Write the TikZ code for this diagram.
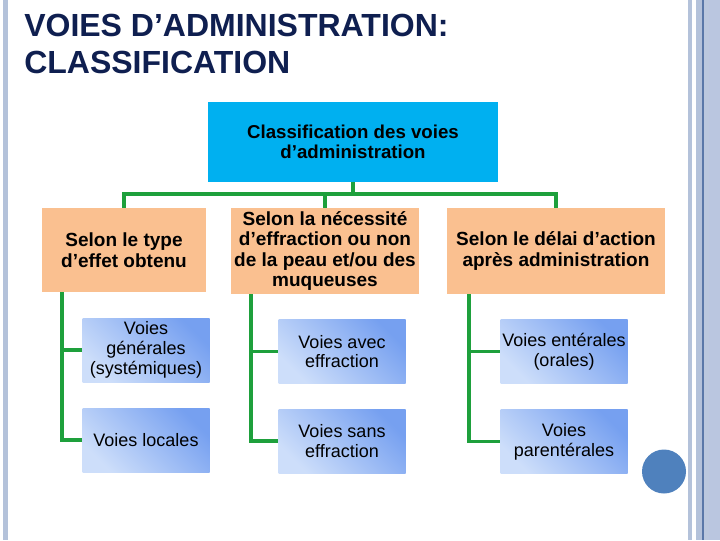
\documentclass[tikz,border=0pt]{standalone}
\usepackage{fontspec}
\setmainfont{Liberation Sans}
\definecolor{stripe}{RGB}{180,194,218}
\definecolor{stripefill}{RGB}{186,198,224}
\definecolor{stripedark}{RGB}{90,120,168}
\definecolor{titlenavy}{RGB}{15,31,80}
\definecolor{cyanbox}{RGB}{0,176,240}
\definecolor{orangebox}{RGB}{250,192,144}
\definecolor{bluedark}{RGB}{118,160,240}
\definecolor{bluelight}{RGB}{205,222,250}
\definecolor{conngreen}{RGB}{30,160,60}
\definecolor{dotblue}{RGB}{79,129,189}
\begin{document}
\begin{tikzpicture}[x=0.75pt,y=-0.75pt,
  titletext/.style={anchor=base west, inner sep=0pt, text=titlenavy,
    font=\fontsize{24pt}{27pt}\selectfont\bfseries},
  topbox/.style={rectangle, fill=cyanbox, inner sep=0pt, align=center,
    minimum width=217.5pt, minimum height=60pt,
    font=\fontsize{14pt}{15pt}\selectfont\bfseries},
  catbox/.style={rectangle, fill=orangebox, inner sep=0pt, align=center,
    minimum height=63pt,
    font=\fontsize{14.25pt}{15.4pt}\selectfont\bfseries},
  leafbox/.style={rectangle, inner sep=0pt, align=center,
    minimum width=95.25pt, minimum height=48pt,
    top color=bluedark, bottom color=bluelight, shading angle=-45,
    font=\fontsize{13.5pt}{14.8pt}\selectfont},
  conn/.style={draw=conngreen, line width=2.3pt}]
\useasboundingbox (0,0) rectangle (720,540);
% frame stripes
\fill[stripe] (3,0) rectangle (8,540);
\fill[stripe] (688,0) rectangle (692,540);
\fill[stripe] (696,0) rectangle (702,540);
\fill[stripedark] (702,0) rectangle (703.5,540);
\fill[stripe!90!white] (703.5,0) rectangle (709,540);
\fill[stripefill] (709,0) rectangle (720,540);
% title
\node[titletext] (t1) at (24,36) {VOIES D’ADMINISTRATION:};
\node[titletext] (t2) at (24,73) {CLASSIFICATION};
% boxes
\node[topbox] (top) at (353,142) {Classification des voies\\d’administration};
\node[catbox, minimum width=123pt] (o1) at (124,250) {Selon le type\\d’effet obtenu};
\node[catbox, minimum width=141pt, minimum height=64.5pt] (o2) at (325,251) {Selon la nécessité\\d’effraction ou non\\de la peau et/ou des\\muqueuses};
\node[catbox, minimum width=163.5pt, minimum height=64.5pt] (o3) at (556,251) {Selon le délai d’action\\après administration};
\node[leafbox] (b1) at (146,350) {Voies\\générales\\(systémiques)};
\node[leafbox] (b2) at (146,440) {Voies locales};
\node[leafbox] (b3) at (342,351.5) {Voies avec\\effraction};
\node[leafbox] (b4) at (342,441) {Voies sans\\effraction};
\node[leafbox] (b5) at (564,351.5) {Voies entérales\\(orales)};
\node[leafbox] (b6) at (564,441.5) {Voies\\parentérales};
% connectors
\coordinate (bar) at (353,194);
\coordinate (s1) at (62,0);
\coordinate (s2) at (251,0);
\coordinate (s3) at (469,0);
\draw[conn] (top.south) -- (top.south |- bar);
\draw[conn] (o1.north) |- (o3.north |- bar) -- (o3.north);
\draw[conn] (o2.north) -- (o2.north |- bar);
\draw[conn] (o1.south -| s1) |- (b1.west);
\draw[conn] (o1.south -| s1) |- (b2.west);
\draw[conn] (o2.south -| s2) |- (b3.west);
\draw[conn] (o2.south -| s2) |- (b4.west);
\draw[conn] (o3.south -| s3) |- (b5.west);
\draw[conn] (o3.south -| s3) |- (b6.west);
% dot
\node[circle, fill=dotblue, inner sep=0pt, minimum size=33pt] (dot) at (664,471.5) {};
\end{tikzpicture}
\end{document}
